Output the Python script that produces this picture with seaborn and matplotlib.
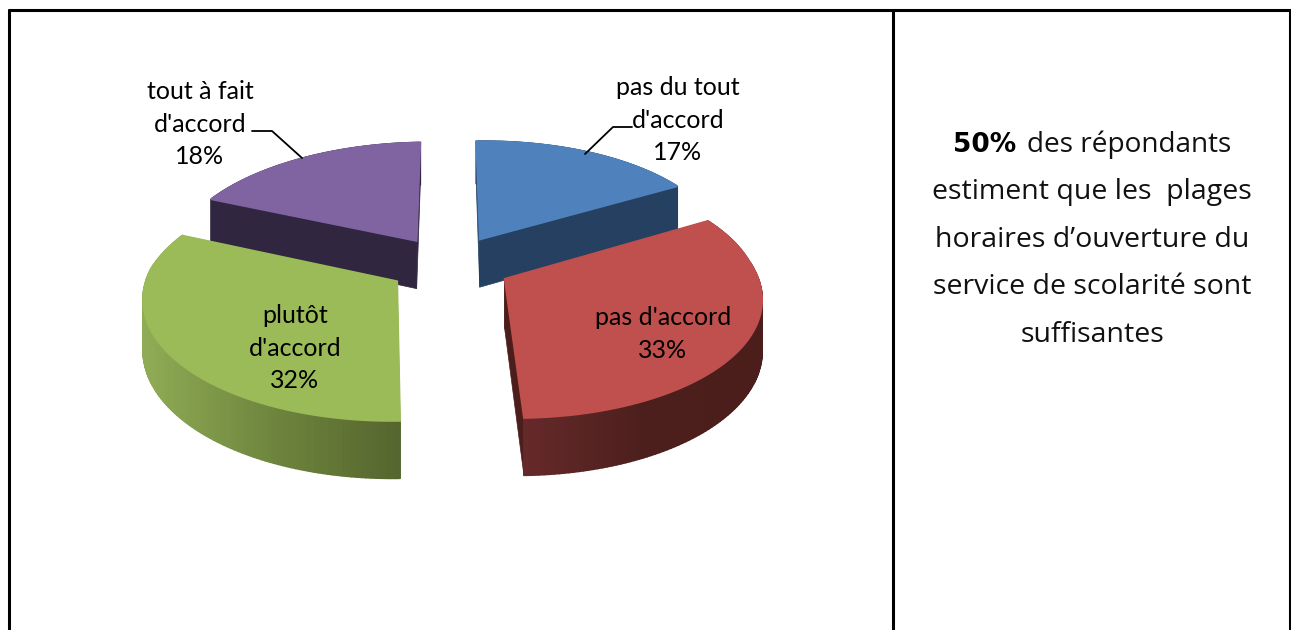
import numpy as np
import matplotlib
matplotlib.use("Agg")
import matplotlib.pyplot as plt
from matplotlib.collections import PolyCollection
import seaborn as sns

categories = ["pas du tout\nd'accord", "pas d'accord", "plutôt\nd'accord", "tout à fait\nd'accord"]
values = [17, 33, 32, 18]
top_colors = ["#4F81BD", "#C0504D", "#9BBB59", "#8064A2"]
side_colors = [["#254061", "#254061"], ["#66292A", "#4C1F1D", "#4B1E1C"],
               ["#8FAB55", "#6E853D", "#55652E"], ["#31263F", "#31263F"]]
label_pos = [(678, 120), (663, 334), (295, 348), (200, 124)]
draw_order = [3, 0, 2, 1]
text_lines = ["estiment que les  plages", "horaires d’ouverture du", "service de scolarité sont", "suffisantes"]

sns.set_theme(style="white")
plt.rcParams["font.family"] = ["Lato", "DejaVu Sans"]

# shape of the tilted pie, in pixels
cx, cy = 449, 264.5
rx, ry = 248, 117
persp = 0.13
explode = 0.25
depth = 49
shear = 11
roll = 0.015


def project(x, y):
    s = 1 / (1 + persp * y)
    px = cx + rx * x * s + shear * np.maximum(-y, 0)
    return px, cy - ry * y * s - roll * (px - cx), depth * s


fig = plt.figure(figsize=(12.91, 6.30), dpi=100)
ax = fig.add_axes([0, 0, 1, 1])
ax.set_xlim(0, 1291)
ax.set_ylim(630, 0)
ax.axis("off")

edges = np.cumsum([0] + values) / sum(values) * 2 * np.pi
for i in draw_order:
    t0, t1 = edges[i], edges[i + 1]
    mid = (t0 + t1) / 2
    ox, oy = explode * np.sin(mid), explode * np.cos(mid)
    t = np.linspace(t0, t1, 120)
    xs = np.r_[ox, ox + np.sin(t)]
    ys = np.r_[oy, oy + np.cos(t)]
    sx, sy, d = project(xs, ys)

    # cut faces first, then the outer rim with its colour ramp
    palette = sns.blend_palette(side_colors[i], 100)
    flat = side_colors[i][-1]
    for j in (1, -1):
        quad = [(sx[0], sy[0]), (sx[j], sy[j]), (sx[j], sy[j] + d[j]), (sx[0], sy[0] + d[0])]
        ax.fill(*zip(*quad), color=flat, lw=0.5, zorder=2)
    quads, colors = [], []
    lo, hi = (525, 760) if i == 1 else (145, 402)
    for j in range(1, len(sx) - 1):
        quads.append([(sx[j], sy[j]), (sx[j + 1], sy[j + 1]),
                      (sx[j + 1], sy[j + 1] + d[j + 1]), (sx[j], sy[j] + d[j])])
        pos = np.clip((sx[j] - lo) / (hi - lo), 0, 1)
        colors.append(palette[int(pos * 99)])
    ax.add_collection(PolyCollection(quads, facecolors=colors, edgecolors=colors, linewidths=1.2, zorder=2))
    ax.fill(sx, sy, color=top_colors[i], lw=1.3, zorder=2)

for i, (name, val) in enumerate(zip(categories, values)):
    ax.text(label_pos[i][0], label_pos[i][1], f"{name}\n{val}%", ha="center", va="center",
            fontsize=18, color="black", linespacing=1.52, zorder=4)

# leader lines
ax.plot([252, 272, 302], [131, 131, 158], color="black", lw=1.3, zorder=3)
ax.plot([632, 613, 585], [127, 127, 154], color="black", lw=1.3, zorder=3)

# table borders
ax.plot([9, 9], [630, 10], color="black", lw=2.2, zorder=5)
ax.plot([9, 1290], [10, 10], color="black", lw=2.2, zorder=5)
ax.plot([893, 893], [10, 630], color="black", lw=2.2, zorder=5)
ax.plot([1290, 1290], [10, 630], color="black", lw=2.2, zorder=5)

# text panel on the right
ax.text(1016, 152, "50%", ha="right", va="baseline", fontsize=19, fontweight="bold", family="DejaVu Sans", color="black")
ax.text(1027, 152, "des répondants", ha="left", va="baseline", fontsize=20.2, family="Open Sans", color="#111111")
for n, line in enumerate(text_lines):
    ax.text(1092, 199.5 + 47.5 * n, line, ha="center", va="baseline", fontsize=20.5, family="Open Sans", color="#111111")

fig.savefig("out.png", dpi=100)
